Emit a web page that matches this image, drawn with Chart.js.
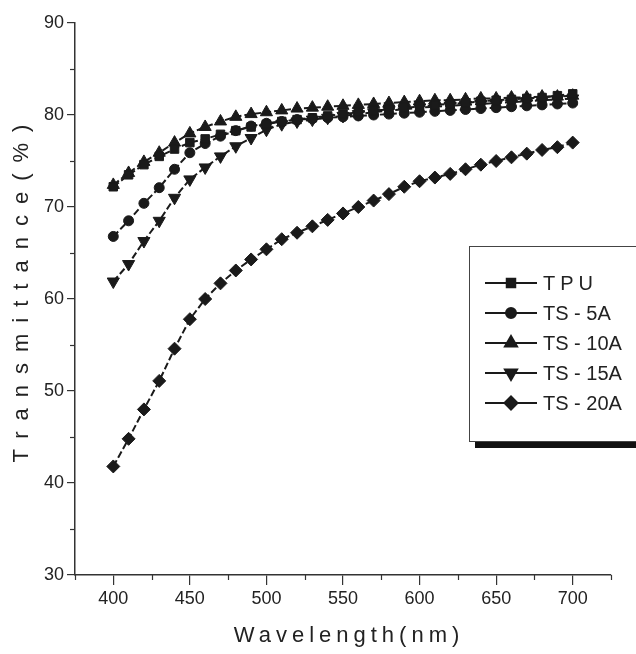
<!DOCTYPE html>
<html>
<head>
<meta charset="utf-8">
<script src="https://cdn.jsdelivr.net/npm/chart.js@4.4.1/dist/chart.umd.min.js"></script>
<style>
  body { margin: 0; background: #fff; }
  #wrap { width: 636px; height: 654px; }
</style>
</head>
<body>
<div id="wrap"><canvas id="chart" width="636" height="654"></canvas></div>
<script>
// wavelength (nm), 400..700 every 10 nm
const wavelengths = [400, 410, 420, 430, 440, 450, 460, 470, 480, 490, 500, 510, 520, 530, 540, 550,
  560, 570, 580, 590, 600, 610, 620, 630, 640, 650, 660, 670, 680, 690, 700];

// transmittance (%)
const tpu = [72.2, 73.5, 74.6, 75.5, 76.3, 77.0, 77.4, 77.9, 78.3, 78.7, 79.0, 79.3, 79.5, 79.7, 79.9, 80.1,
  80.3, 80.5, 80.6, 80.8, 80.9, 81.1, 81.2, 81.3, 81.5, 81.6, 81.7, 81.8, 81.9, 82.1, 82.3];
const ts5a = [66.8, 68.5, 70.4, 72.1, 74.1, 75.9, 76.9, 77.7, 78.3, 78.8, 79.1, 79.3, 79.5, 79.6, 79.7, 79.8,
  79.9, 80.0, 80.1, 80.2, 80.3, 80.4, 80.5, 80.6, 80.7, 80.8, 80.9, 81.0, 81.1, 81.2, 81.3];
const ts10a = [72.4, 73.7, 74.9, 75.9, 77.0, 78.0, 78.7, 79.3, 79.8, 80.1, 80.3, 80.5, 80.7, 80.8, 80.9, 81.0,
  81.1, 81.2, 81.3, 81.4, 81.5, 81.6, 81.6, 81.7, 81.8, 81.8, 81.9, 81.9, 82.0, 82.0, 82.1];
const ts15a = [61.9, 63.8, 66.3, 68.5, 71.0, 73.0, 74.3, 75.5, 76.6, 77.5, 78.4, 79.0, 79.3, 79.5, 79.7, 79.9,
  80.1, 80.3, 80.5, 80.6, 80.8, 80.9, 81.0, 81.1, 81.2, 81.3, 81.4, 81.5, 81.6, 81.7, 81.8];
const ts20a = [41.8, 44.8, 48.0, 51.1, 54.6, 57.8, 60.0, 61.7, 63.1, 64.3, 65.4, 66.5, 67.2, 67.9, 68.6, 69.3,
  70.0, 70.7, 71.4, 72.2, 72.8, 73.2, 73.6, 74.1, 74.6, 75.0, 75.4, 75.8, 76.2, 76.5, 77.0];

const seriesLabels = ["TPU", "TS - 5A", "TS - 10A", "TS - 15A", "TS - 20A"];
const xMajorTicks = [400, 450, 500, 550, 600, 650, 700];
const xMinorTicks = [375, 425, 475, 525, 575, 625, 675, 725];
const yMajorTicks = [30, 40, 50, 60, 70, 80, 90];
const yMinorTicks = [35, 45, 55, 65, 75, 85];

const ink = "#1a1a1a";

//marker looks for each series
const markers = [
  { pointStyle: "rect", radius: 6, rotation: 0 },
  { pointStyle: "circle", radius: 5, rotation: 0 },
  { pointStyle: "triangle", radius: 7, rotation: 0 },
  { pointStyle: "triangle", radius: 7, rotation: 180 },
  { pointStyle: "rectRot", radius: 6.5, rotation: 0 },
];

const allValues = [tpu, ts5a, ts10a, ts15a, ts20a];

const datasets = allValues.map((vals, i) => ({
  label: seriesLabels[i],
  data: wavelengths.map((w, j) => ({ x: w, y: vals[j] })),
  borderColor: ink,
  backgroundColor: ink,
  borderWidth: 2,
  borderDash: [7, 3],
  pointStyle: markers[i].pointStyle,
  pointRadius: markers[i].radius,
  pointRotation: markers[i].rotation,
  pointBorderWidth: 1,
  pointBackgroundColor: ink,
  pointBorderColor: ink,
  fill: false,
  tension: 0,
}));

// minor ticks, axis titles and the boxed legend are drawn here
const extrasPlugin = {
  id: "extras",
  afterDraw(chart) {
    const ctx = chart.ctx;
    const xs = chart.scales.x;
    const ys = chart.scales.y;
    const area = chart.chartArea;

    ctx.save();
    ctx.strokeStyle = "#333";
    ctx.lineWidth = 1.2;
    xMinorTicks.forEach((v) => {
      const px = Math.round(xs.getPixelForValue(v)) + 0.5;
      ctx.beginPath();
      ctx.moveTo(px, area.bottom);
      ctx.lineTo(px, area.bottom + 5);
      ctx.stroke();
    });
    yMinorTicks.forEach((v) => {
      const py = Math.round(ys.getPixelForValue(v)) + 0.5;
      ctx.beginPath();
      ctx.moveTo(area.left, py);
      ctx.lineTo(area.left - 5, py);
      ctx.stroke();
    });

    // axis titles, letter spaced like the original
    ctx.fillStyle = "#222";
    ctx.font = "22px 'Liberation Sans', Arial, sans-serif";
    ctx.textAlign = "center";
    ctx.textBaseline = "middle";
    ctx.letterSpacing = "5px";
    ctx.fillText("Wavelength(nm)", (area.left + area.right) / 2 + 6, 636);
    ctx.save();
    ctx.translate(22, 288);
    ctx.rotate(-Math.PI / 2);
    ctx.letterSpacing = "11px";
    ctx.fillText("Transmittance(%)", 0, 0);
    ctx.restore();

    // legend box with shadow
    ctx.letterSpacing = "0px";
    ctx.fillStyle = "#111";
    ctx.fillRect(475, 442, 170, 6);
    ctx.fillStyle = "#fff";
    ctx.fillRect(469, 246, 180, 196);
    ctx.strokeStyle = "#444";
    ctx.lineWidth = 1;
    ctx.strokeRect(469.5, 246.5, 180, 195);

    ctx.font = "20px 'Liberation Sans', Arial, sans-serif";
    ctx.textAlign = "left";
    chart.data.datasets.forEach((ds, i) => {
      const y = 283 + 30 * i;
      ctx.strokeStyle = ink;
      ctx.lineWidth = 2;
      ctx.setLineDash([]);
      ctx.beginPath();
      ctx.moveTo(485, y);
      ctx.lineTo(537, y);
      ctx.stroke();
      ctx.fillStyle = ink;
      Chart.helpers.drawPoint(ctx, {
        pointStyle: ds.pointStyle,
        radius: ds.pointRadius,
        rotation: ds.pointRotation,
        borderWidth: 1,
      }, 511, y);
      ctx.fillStyle = "#222";
      ctx.letterSpacing = ds.label.length <= 3 ? "5px" : "0px";
      ctx.fillText(ds.label, 543, y + 1);
    });
    ctx.restore();
  },
};

new Chart(document.getElementById("chart"), {
  type: "line",
  data: { datasets: datasets },
  options: {
    responsive: false,
    animation: false,
    layout: { padding: { top: 23, right: 25, left: 0, bottom: 0 } },
    plugins: {
      legend: { display: false },
      tooltip: { enabled: false },
    },
    scales: {
      x: {
        type: "linear",
        min: 375,
        max: 725,
        afterBuildTicks: (scale) => {
          scale.ticks = xMajorTicks.map((v) => ({ value: v }));
        },
        afterFit: (scale) => {
          scale.height = 79;
        },
        ticks: {
          color: "#222",
          font: { family: "'Liberation Sans Narrow', 'Liberation Sans', Arial", size: 18 },
          padding: 3,
          maxRotation: 0,
        },
        grid: {
          drawOnChartArea: false,
          drawTicks: true,
          tickLength: 10,
          color: "#333",
          lineWidth: 1.2,
        },
        border: { display: true, color: "#333", width: 1.5 },
      },
      y: {
        type: "linear",
        min: 30,
        max: 90,
        afterBuildTicks: (scale) => {
          scale.ticks = yMajorTicks.map((v) => ({ value: v }));
        },
        afterFit: (scale) => {
          scale.width = 75;
        },
        ticks: {
          color: "#222",
          font: { family: "'Liberation Sans Narrow', 'Liberation Sans', Arial", size: 18 },
          padding: 3,
        },
        grid: {
          drawOnChartArea: false,
          drawTicks: true,
          tickLength: 8,
          color: "#333",
          lineWidth: 1.2,
        },
        border: { display: true, color: "#333", width: 1.5 },
      },
    },
  },
  plugins: [extrasPlugin],
});
</script>
</body>
</html>
